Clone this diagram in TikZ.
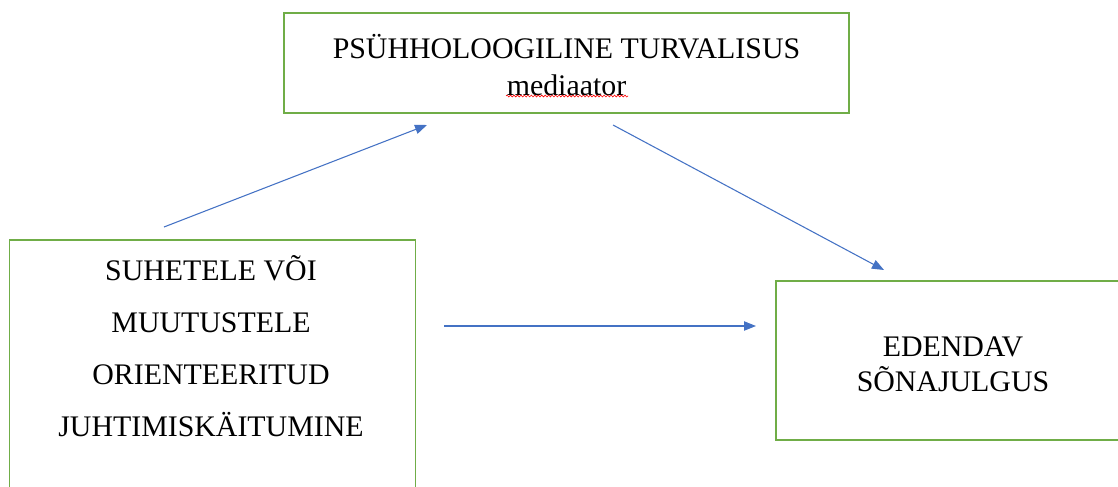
\documentclass[tikz,border=0pt]{standalone}
\usepackage{fontspec}
\setmainfont{Liberation Serif}
\usetikzlibrary{arrows.meta,decorations.pathmorphing}
\definecolor{boxgreen}{HTML}{70AD47}
\definecolor{arrowblue}{HTML}{4472C4}
\begin{document}
\begin{tikzpicture}[x=0.75pt,y=-0.75pt,
  box node/.style={rectangle,draw=boxgreen,line width=1pt},
  text node/.style={align=center,inner sep=0pt},
  link/.style={draw=arrowblue,line width=0.8pt,-{Triangle[length=9pt,width=7pt]}},
  spell mark/.style={draw=red,line width=0.45pt,decorate,decoration={snake,amplitude=0.7pt,segment length=2.6pt}}]

  \useasboundingbox (0,0) rectangle (1118,486);
  \clip (0,0) rectangle (1118,486);

  \node[box node,minimum width=423.75pt,minimum height=75pt] at (566.5,63) (mediator) {};
  \node[box node,minimum width=304.5pt,minimum height=240pt,anchor=north west] at (8.7,239.3) (leadership) {};
  \node[box node,minimum width=265.5pt,minimum height=119.25pt] at (953,360.5) (voice) {};

  \node[text node,font=\fontsize{22.4}{28}\selectfont] at (566.5,65) (mediatortext) {PSÜHHOLOOGILINE TURVALISUS\\mediaator};
  \node[text node,font=\fontsize{22.4}{39}\selectfont] at (211,346) (leadershiptext) {SUHETELE VÕI\\MUUTUSTELE\\ORIENTEERITUD\\JUHTIMISKÄITUMINE};
  \node[text node,font=\fontsize{22.4}{26.25}\selectfont] at (953,364) (voicetext) {EDENDAV\\SÕNAJULGUS};

  \coordinate (from1) at (164,227);
  \coordinate (to1) at (427,125);
  \coordinate (from2) at (613,125);
  \coordinate (to2) at (884,270);
  \coordinate (from3) at (444,326);
  \coordinate (to3) at (756,326);
  \coordinate (spellstart) at (506,96);
  \coordinate (spellend) at (628,96);

  \draw[link] (from1) -- (to1);
  \draw[link] (from2) -- (to2);
  \draw[link] (from3) -- (to3);
  \draw[spell mark] (spellstart) -- (spellend);
\end{tikzpicture}
\end{document}
